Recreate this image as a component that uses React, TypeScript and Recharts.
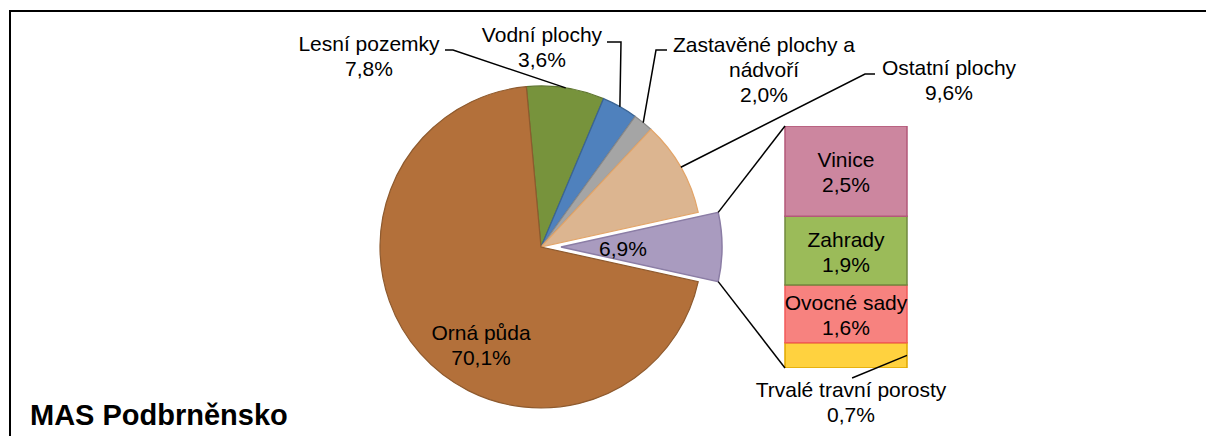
import { PieChart, Pie, Cell, BarChart, Bar, XAxis, YAxis, LabelList } from 'recharts'

// main pie, clockwise from the top-left; index 4 is the split-out "ostatní" slice
const pieNames = ['Lesní pozemky', 'Vodní plochy', 'Zastavěné plochy a\nnádvoří', 'Ostatní plochy', 'Ostatní', 'Orná půda']
const pieValues = [7.8, 3.6, 2.0, 9.6, 6.9, 70.1]
const pieColors = ['#77933C', '#4F81BD', '#A5A5A5', '#DCB590', '#A99BBF', '#B3703A']
const pieStrokes = ['#5E7530', '#3A6494', '#8A8A8A', '#E3A569', '#8B7DA5', '#8E5A2E']
const OTHER = 4

// secondary bar, top to bottom
const barNames = ['Vinice', 'Zahrady', 'Ovocné sady', 'Trvalé travní porosty']
const barValues = [2.5, 1.9, 1.6, 0.7]
const barColors = ['#CC869F', '#9BBB59', '#F7827F', '#FFD23F']
const barStrokes = ['#B3587A', '#71893F', '#F25A5A', '#E0A800']

const FONT = "'Liberation Sans', Arial, sans-serif"
const FS = 21
const LINE_H = 25
const RAD = Math.PI / 180

const CX = 541
const CY = 247
const R = 161
const EXPLODE = 20

const sum = (a: number[]) => a.reduce((s, v) => s + v, 0)
const pieTotal = sum(pieValues)
// rotate so the split-out slice is centred at 3 o'clock
const START = ((sum(pieValues.slice(0, OTHER)) + pieValues[OTHER] / 2) / pieTotal) * 360
const otherStart = START - (sum(pieValues.slice(0, OTHER)) / pieTotal) * 360
const otherEnd = otherStart - (pieValues[OTHER] / pieTotal) * 360

const pct = (v: number) => v.toFixed(1).replace('.', ',') + '%'

const pieData = pieNames.map((name, i) => ({ name, value: pieValues[i] }))

const barRow: Record<string, number | string> = { name: 'Ostatní' }
barValues.forEach((v, i) => (barRow['s' + i] = v))
const barTotal = sum(barValues)

// bar chart box
const BAR_LEFT = 726
const BAR_TOP = 122
const BAR_W = 240
const BAR_H = 310
const BAR_MARGIN = { top: 4, right: 59, bottom: 64, left: 59 }

// label placement (text centre of first line, leader elbow points)
const PIE_LABEL_LAYOUT: Record<number, { x: number; y: number; path?: number[][] }> = {
  0: { x: 369, y: 43.5, path: [[453, 50], [445, 50]] },
  1: { x: 542, y: 34.5, path: [[621, 42], [607, 42]] },
  2: { x: 764, y: 44, path: [[656, 50], [667, 50]] },
  3: { x: 949, y: 67, path: [[865, 74], [875, 74]] },
  4: { x: 623, y: 248.5 },
  5: { x: 481, y: 332 },
}

const Lines = ({ x, y, lines, anchor = 'middle' }: { x: number; y: number; lines: string[]; anchor?: string }) => (
  <text x={x} y={y} textAnchor={anchor} fontFamily={FONT} fontSize={FS} fill="#000">
    {lines.map((l, k) => (
      <tspan key={k} x={x} y={y + k * LINE_H} dominantBaseline="central">
        {l}
      </tspan>
    ))}
  </text>
)

const makePieLabel = (only: (i: number) => boolean) => (props: any) => {
  const { index, cx, cy, outerRadius, midAngle } = props
  if (!only(index)) return null
  const lay = PIE_LABEL_LAYOUT[index]
  const lines = [...pieNames[index].split('\n'), pct(pieValues[index])]
  if (index === OTHER) lines.shift()
  let leader = null
  if (lay.path) {
    const ex = cx + Math.cos(-midAngle * RAD) * outerRadius
    const ey = cy + Math.sin(-midAngle * RAD) * outerRadius
    const pts = [[ex, ey], ...lay.path].map((p) => p.join(',')).join(' ')
    leader = <polyline points={pts} fill="none" stroke="#000" strokeWidth={1.5} />
  }
  return (
    <g key={'pl' + index}>
      {leader}
      <Lines x={lay.x} y={lay.y} lines={lines} />
    </g>
  )
}

const renderBarLabel = (i: number) => (props: any) => {
  const vb = props.viewBox || props
  const { x, y, width, height } = vb
  const lines = [barNames[i], pct(barValues[i])]
  const mx = x + width / 2
  if (i === barNames.length - 1) {
    // small segment: label below with a leader
    const by = y + height
    return (
      <g>
        <line x1={x + width} y1={y + height / 2} x2={x + width * 0.55} y2={by + 10} stroke="#000" strokeWidth={1.5} />
        <Lines x={mx + 5} y={by + 21} lines={lines} />
      </g>
    )
  }
  return <Lines x={mx} y={y + height / 2 - LINE_H / 2 + 1} lines={lines} />
}

export default function App() {
  const plotH = BAR_H - BAR_MARGIN.top - BAR_MARGIN.bottom
  const barX = BAR_LEFT + BAR_MARGIN.left
  const barTopY = BAR_TOP + BAR_MARGIN.top
  const barBotY = barTopY + plotH
  const c1 = [CX + EXPLODE + R * Math.cos(otherStart * RAD), CY - R * Math.sin(otherStart * RAD)]
  const c2 = [CX + EXPLODE + R * Math.cos(otherEnd * RAD), CY - R * Math.sin(otherEnd * RAD)]

  return (
    <div style={{ position: 'absolute', left: 0, top: 0, width: 1206, height: 436, overflow: 'hidden', background: '#fff', fontFamily: FONT }}>
      <div style={{ position: 'absolute', left: 9, top: 10, width: 1206, height: 436, borderLeft: '2px solid #000', borderTop: '2px solid #000' }} />
      <div style={{ position: 'absolute', left: 0, top: 0 }}>
        <PieChart width={1206} height={436} margin={{ top: 0, right: 0, bottom: 0, left: 0 }}>
          <Pie
            data={pieData}
            dataKey="value"
            nameKey="name"
            cx={CX}
            cy={CY}
            outerRadius={R}
            startAngle={START}
            endAngle={START - 360}
            label={makePieLabel((i) => i !== OTHER)}
            labelLine={false}
            isAnimationActive={false}
          >
            {pieData.map((d, i) => (
              <Cell
                key={d.name}
                fill={i === OTHER ? 'none' : pieColors[i]}
                stroke={i === OTHER ? 'none' : pieStrokes[i]}
                strokeWidth={1.2}
              />
            ))}
          </Pie>
          <Pie
            data={pieData}
            dataKey="value"
            nameKey="name"
            cx={CX + EXPLODE}
            cy={CY}
            outerRadius={R}
            startAngle={START}
            endAngle={START - 360}
            label={makePieLabel((i) => i === OTHER)}
            labelLine={false}
            isAnimationActive={false}
          >
            {pieData.map((d, i) => (
              <Cell
                key={d.name}
                fill={i === OTHER ? pieColors[i] : 'none'}
                stroke={i === OTHER ? pieStrokes[i] : 'none'}
                strokeWidth={1.5}
              />
            ))}
          </Pie>
        </PieChart>
      </div>
      <div style={{ position: 'absolute', left: BAR_LEFT, top: BAR_TOP }}>
        <BarChart width={BAR_W} height={BAR_H} data={[barRow]} margin={BAR_MARGIN} barCategoryGap={0}>
          <XAxis dataKey="name" type="category" hide />
          <YAxis type="number" domain={[0, barTotal]} allowDataOverflow hide />
          {barValues
            .map((_, i) => i)
            .reverse()
            .map((i) => (
              <Bar
                key={barNames[i]}
                dataKey={'s' + i}
                stackId="a"
                fill={barColors[i]}
                stroke={barStrokes[i]}
                strokeWidth={1.5}
                isAnimationActive={false}
              >
                <LabelList dataKey={'s' + i} content={renderBarLabel(i)} />
              </Bar>
            ))}
        </BarChart>
      </div>
      <svg width={1206} height={436} style={{ position: 'absolute', left: 0, top: 0, pointerEvents: 'none' }}>
        <line x1={c1[0]} y1={c1[1]} x2={barX} y2={barTopY} stroke="#000" strokeWidth={1.5} />
        <line x1={c2[0]} y1={c2[1]} x2={barX} y2={barBotY} stroke="#000" strokeWidth={1.5} />
        <text x={30} y={425} fontFamily={FONT} fontSize={29} fontWeight="bold" fill="#000">
          MAS Podbrněnsko
        </text>
      </svg>
    </div>
  )
}
